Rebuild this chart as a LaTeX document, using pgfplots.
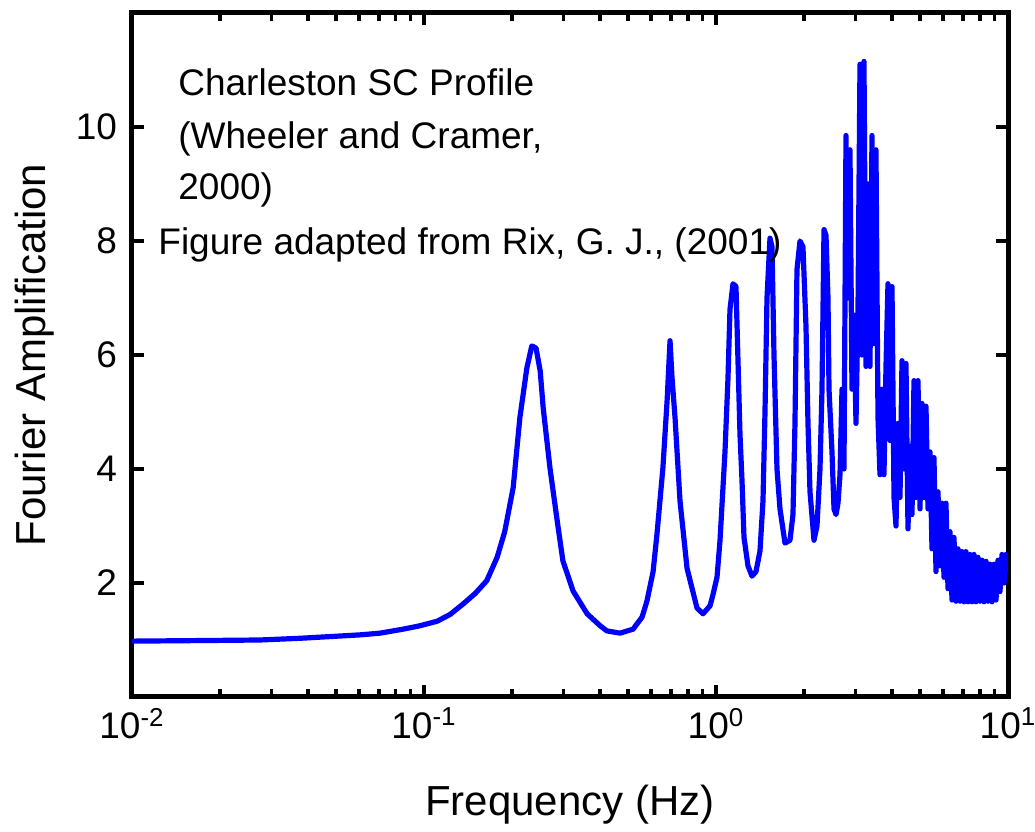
\documentclass[border=0pt]{standalone}
\usepackage{fontspec}
\setmainfont{Liberation Sans}
\usepackage{pgfplots}
\pgfplotsset{compat=1.18}
\begin{document}
\begin{tikzpicture}
\begin{axis}[
  scale only axis, width=438pt, height=342pt,
  xmode=log, xmin=0.01, xmax=10, ymin=0, ymax=12,
  xtick={0.01,0.1,1,10},
  xticklabels={10\textsuperscript{-2},10\textsuperscript{-1},10\textsuperscript{0},10\textsuperscript{1}},
  ytick={2,4,6,8,10},
  tick align=inside,
  axis line style={line width=2.5pt},
  major tick length=6pt, minor tick length=4pt,
  every tick/.style={black, line width=1.8pt},
  /pgf/number format/assume math mode=true,
  tick label style={font=\fontsize{18.5}{22}\selectfont},
  yticklabel style={xshift=-4pt},
  xticklabel style={yshift=-2pt},
  label style={font=\fontsize{21}{25}\selectfont},
  xlabel={Frequency (Hz)}, ylabel={Fourier Amplification},
  xlabel style={at={(axis description cs:0.5,-0.158)}, anchor=center},
  ylabel style={at={(axis description cs:-0.111,0.5)}, anchor=center, rotate=0},
]
\coordinate (bl) at (rel axis cs:0,0);
\coordinate (tr) at (rel axis cs:1,1);
\addplot[blue, line width=2.6pt, line join=round, mark=none] coordinates {
(0.01,0.98) (0.0171,0.99) (0.0274,1.0) (0.0376,1.03) (0.0516,1.07) (0.0604,1.09) (0.0707,1.12) (0.0848,1.19) (0.0969,1.25) (0.111,1.33) (0.123,1.45) (0.136,1.63) (0.150,1.82) (0.164,2.04) (0.178,2.45) (0.189,2.9) (0.202,3.67) (0.213,4.9) (0.225,5.77) (0.234,6.16) (0.242,6.12) (0.250,5.72) (0.256,5.07) (0.270,4.02) (0.285,3.14) (0.299,2.39) (0.324,1.86) (0.362,1.46) (0.401,1.25) (0.423,1.16) (0.469,1.12) (0.520,1.19) (0.558,1.4) (0.580,1.68) (0.609,2.2) (0.628,2.86) (0.658,4.02) (0.680,5.19) (0.696,6.25) (0.707,5.6) (0.724,4.9) (0.753,3.44) (0.796,2.26) (0.861,1.56) (0.903,1.46) (0.954,1.6) (0.977,1.8) (1.008,2.1) (1.032,2.74) (1.0735,4.3) (1.0993,5.6) (1.1167,6.8) (1.1435,7.25) (1.1708,7.2) (1.1894,5.9) (1.2084,4.6) (1.2276,3.8) (1.2471,2.8) (1.2870,2.3) (1.3283,2.12) (1.3708,2.2) (1.4148,2.56) (1.4486,3.44) (1.4717,5.0) (1.4951,7.0) (1.5308,8.05) (1.5552,7.9) (1.5799,6.0) (1.6177,4.0) (1.6564,3.3) (1.7231,2.7) (1.7923,2.75) (1.8353,3.2) (1.8644,4.8) (1.8941,7.5) (1.9394,8.0) (1.9858,7.9) (2.0334,6.5) (2.0657,4.8) (2.0986,3.6) (2.1658,2.75) (2.2177,3.0) (2.2708,4.0) (2.3069,5.4) (2.3436,8.2) (2.3808,8.1) (2.4186,7.0) (2.4378,5.4) (2.4961,4.3)
(2.5358,3.3) (2.5761,3.2) (2.6170,3.4) (2.6587,3.9) (2.7009,5.4) (2.7438,4.0) (2.7874,9.85) (2.8318,7.0) (2.8768,9.6) (2.9225,5.4) (2.9690,6.7) (3.0162,4.8) (3.0642,6.8) (3.1129,11.1) (3.1623,6.0) (3.2126,11.15) (3.2637,5.8) (3.3156,9.0) (3.3683,5.8) (3.4218,9.85) (3.4762,6.2) (3.5315,9.6) (3.5877,4.9) (3.6447,3.9) (3.7027,5.4) (3.7615,3.9) (3.8213,5.8) (3.8821,7.25) (3.9438,4.5) (4.0065,7.2) (4.0702,3.5) (4.1349,3.0) (4.2005,4.8) (4.2673,3.5) (4.3352,5.9) (4.4040,4.0) (4.4740,5.85) (4.5451,2.95) (4.6173,4.4) (4.6909,3.2) (4.7653,5.55) (4.8409,3.5) (4.9178,5.55) (4.9960,3.3) (5.0754,5.15) (5.1560,3.5) (5.2383,5.1) (5.3216,3.3) (5.4061,4.3) (5.4921,2.6) (5.5794,4.2) (5.6681,2.2) (5.7582,3.6) (5.8498,2.3) (5.9427,3.4) (6.0372,2.1) (6.1331,3.4) (6.2306,1.9) (6.3297,2.9)
(6.4302,1.7) (6.5325,2.8) (6.6363,1.68) (6.7418,2.6) (6.8490,1.68) (6.958,2.55) (7.0686,1.67) (7.1809,2.55) (7.2951,1.67) (7.4111,2.5) (7.5288,1.67) (7.6486,2.5) (7.7702,1.67) (7.8937,2.45) (8.0192,1.68) (8.1466,2.4) (8.2761,1.67) (8.4077,2.38) (8.5414,1.68) (8.6769,2.33) (8.8150,1.67) (8.9551,2.33) (9.0973,1.7) (9.2419,2.4) (9.3890,1.85) (9.538,2.5) (9.6897,2.0) (9.8437,2.5) (10.0,2.15)
};
\node[anchor=base west, inner sep=0, font=\fontsize{18.5}{22}\selectfont] at (rel axis cs:0.0525,0.8787) {Charleston SC Profile};
\node[anchor=base west, inner sep=0, font=\fontsize{18.5}{22}\selectfont] at (rel axis cs:0.0525,0.8026) {(Wheeler and Cramer,};
\node[anchor=base west, inner sep=0, font=\fontsize{18.5}{22}\selectfont] at (rel axis cs:0.0525,0.7266) {2000)};
\node[anchor=base west, inner sep=0, font=\fontsize{18.5}{22}\selectfont] at (rel axis cs:0.0297,0.6462) {Figure adapted from Rix, G. J., (2001)};
\end{axis}
\pgfresetboundingbox
\path ([shift={(-66pt,-67.5pt)}]bl) rectangle ([shift={(13.5pt,6.5pt)}]tr);
\end{tikzpicture}
\end{document}
